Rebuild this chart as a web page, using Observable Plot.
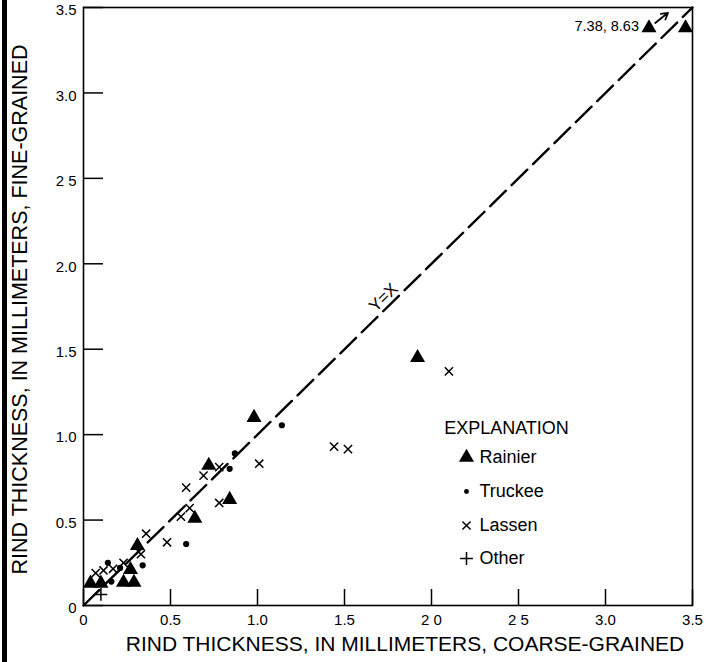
<!DOCTYPE html>
<html><head><meta charset="utf-8">
<script src="https://cdn.jsdelivr.net/npm/d3@7"></script>
<script src="https://cdn.jsdelivr.net/npm/@observablehq/plot@0.6"></script>
<style>
body{margin:0;background:#fff;}
#chart{position:relative;width:723px;height:662px;overflow:hidden;}
#chart::before{content:"";position:absolute;left:2px;top:0;width:5px;height:662px;background:#000;}
svg{display:block;}
</style></head><body><div id="chart"></div>
<script>
// Rainier (filled triangles)
const rainierX = [0.04, 0.10, 0.23, 0.29, 0.27, 0.31, 0.64, 0.72, 0.84, 0.98, 1.92, 3.25, 3.46];
const rainierY = [0.13, 0.13, 0.135, 0.135, 0.21, 0.35, 0.51, 0.82, 0.62, 1.10, 1.45, 3.38, 3.38];
// Truckee (dots)
const truckeeX = [0.14, 0.16, 0.21, 0.34, 0.59, 0.84, 0.87, 1.14];
const truckeeY = [0.25, 0.14, 0.22, 0.235, 0.36, 0.80, 0.89, 1.055];
// Lassen (x)
const lassenX = [0.07, 0.115, 0.17, 0.23, 0.33, 0.36, 0.48, 0.56, 0.61, 0.59, 0.69, 0.78, 0.78, 1.01, 1.44, 1.52, 2.10];
const lassenY = [0.19, 0.205, 0.215, 0.25, 0.30, 0.42, 0.37, 0.52, 0.57, 0.69, 0.76, 0.81, 0.60, 0.83, 0.93, 0.915, 1.37];
// Other (+)
const otherX = [0.10];
const otherY = [0.065];

// off-scale Rainier point label
const offscaleLabel = "7.38, 8.63";
const offscaleIndex = 11;

const seriesNames = ["Rainier", "Truckee", "Lassen", "Other"];
const legendTitle = "EXPLANATION";

const xTicks = [0, 0.5, 1.0, 1.5, 2.0, 2.5, 3.0, 3.5];
const xTickLabels = ["0", "0.5", "1.0", "1.5", "2 0", "2 5", "3.0", "3.5"];
const yTicks = [0, 0.5, 1.0, 1.5, 2.0, 2.5, 3.0, 3.5];
const yTickLabels = ["0", "0.5", "1.0", "1.5", "2.0", "2 5", "3.0", "3.5"];

const xLabel = "RIND THICKNESS, IN MILLIMETERS, COARSE-GRAINED";
const yLabel = "RIND THICKNESS, IN MILLIMETERS, FINE-GRAINED";
const lineLabel = "Y=X";

const zip = (xs, ys) => xs.map((x, i) => ({x, y: ys[i]}));
const rainier = zip(rainierX, rainierY);
const truckee = zip(truckeeX, truckeeY);
const lassen = zip(lassenX, lassenY);
const other = zip(otherX, otherY);

const W = 723, H = 662, mL = 83, mR = 31, mT = 7, mB = 57;
const dom = [xTicks[0], xTicks[xTicks.length - 1]];
const pxX = (W - mL - mR) / (dom[1] - dom[0]);
const pxY = (H - mT - mB) / (dom[1] - dom[0]);
const xLabMap = new Map(xTicks.map((t, i) => [t, xTickLabels[i]]));
const yLabMap = new Map(yTicks.map((t, i) => [t, yTickLabels[i]]));

const black = "#000";
const sym = {
  Rainier: {symbol: "triangle", fill: black, stroke: "none", r: 5.6},
  Truckee: {symbol: "circle", fill: black, stroke: "none", r: 3.1},
  Lassen: {symbol: "times", fill: "none", stroke: black, r: 3.8, strokeWidth: 1.5},
  Other: {symbol: "plus", fill: "none", stroke: black, r: 4.2, strokeWidth: 1.5}
};

// legend layout (data space)
const legSymX = dom[0] + (466 - mL) / pxX;
const legTxtX = dom[0] + (479 - mL) / pxX;
const legTitleX = dom[0] + (506 - mL) / pxX;
const legTitleY = (H - mB - 428) / pxY;
const legRows = seriesNames.map((name, i) => ({name, x: legSymX, tx: legTxtX, y: (H - mB - [457, 491, 525, 558][i]) / pxY}));

const off = rainier[offscaleIndex];
const ang = -Math.atan2(pxY, pxX) * 180 / Math.PI;

const chart = Plot.plot({
  width: W, height: H,
  marginLeft: mL, marginRight: mR, marginTop: mT, marginBottom: mB,
  x: {domain: dom},
  y: {domain: dom},
  style: {fontFamily: "'Liberation Sans', Arial, Helvetica, sans-serif", color: black, background: "#fff"},
  marks: [
    Plot.frame({stroke: black, strokeWidth: 1.6}),
    Plot.ruleX(xTicks, {x: d => d, y1: dom[0], y2: dom[0] + 16 / pxY, stroke: black, strokeWidth: 1.5}),
    Plot.ruleY(yTicks, {y: d => d, x1: dom[0], x2: dom[0] + 20 / pxX, stroke: black, strokeWidth: 1.5}),
    Plot.axisX({ticks: xTicks, tickFormat: d => xLabMap.get(d), tickSize: 0, tickPadding: 9, fontSize: 15, label: null}),
    Plot.axisY({ticks: yTicks, tickFormat: d => yLabMap.get(d), tickSize: 0, tickPadding: 7, fontSize: 15, dy: 3, label: null}),
    Plot.line(dom, {x: d => d, y: d => d, stroke: black, strokeWidth: 2.4, strokeDasharray: "22,8"}),
    Plot.text([lineLabel], {x: dom[0] + (383 - mL) / pxX, y: (H - mB - 297) / pxY, rotate: ang, fontSize: 17, fill: black}),
    Plot.dot(rainier, {x: "x", y: "y", ...sym.Rainier}),
    Plot.dot(truckee, {x: "x", y: "y", ...sym.Truckee}),
    Plot.dot(lassen, {x: "x", y: "y", ...sym.Lassen}),
    Plot.dot(other, {x: "x", y: "y", ...sym.Other}),
    Plot.arrow([off], {x1: "x", y1: "y", x2: d => d.x + 10 / pxX * 1.9, y2: d => d.y + 8 / pxY * 1.9, insetStart: 8, stroke: black, strokeWidth: 1.8, headLength: 6}),
    Plot.text([off], {x: "x", y: "y", text: () => offscaleLabel, textAnchor: "end", dx: -10, dy: -2, fontSize: 14.5, fill: black}),
    Plot.text([legendTitle], {x: legTitleX, y: legTitleY, fontSize: 18, fill: black}),
    ...legRows.map(r => Plot.dot([r], {x: "x", y: "y", ...sym[r.name], r: sym[r.name].r * (r.name === "Truckee" ? 0.8 : 1)})),
    Plot.text(legRows, {x: "tx", y: "y", text: "name", textAnchor: "start", fontSize: 18, fill: black}),
    Plot.text([xLabel], {frameAnchor: "bottom", dx: 17, dy: 45, fontSize: 21, fill: black}),
    Plot.text([yLabel], {frameAnchor: "left", textAnchor: "middle", dx: -63, dy: 3, rotate: -90, fontSize: 21.5, fill: black})
  ]
});
document.getElementById("chart").appendChild(chart);
</script>
</body></html>
